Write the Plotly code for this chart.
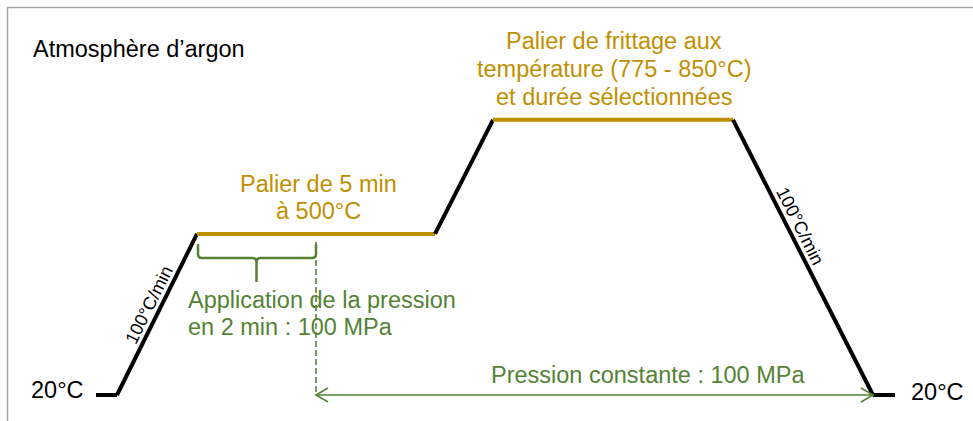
import plotly.graph_objects as go

# ---- thermal cycle (schematic time units, temperature in °C) ----
t_nodes = [96, 117, 197, 435, 493, 733, 873, 895]
temp_nodes = [20, 20, 500, 500, 840, 840, 20, 20]
segment_kind = ["hold", "ramp", "plateau", "ramp", "plateau", "ramp", "hold"]

# ---- pressure schedule (same time units) ----
pressure_ramp = [197, 316]      # application of pressure in 2 min
pressure_const = [316, 873]     # constant pressure until cooled down
pressure_level_temp = 20

# ---- labels ----
atmosphere_label = "Atmosphère d\u2019argon"
sinter_label = ["Palier de frittage aux", "température (775 - 850°C)", "et durée sélectionnées"]
hold_label = ["Palier de 5 min", "à 500°C"]
apply_label = ["Application de la pression", "en 2 min : 100 MPa"]
const_label = "Pression constante : 100 MPa"
rate_label = "100°C/min"
room_label = "20°C"

GOLD = "#BF9000"
GREEN = "#548235"
FONT = "Liberation Sans, Arial, sans-serif"

W, H = 973, 421
# temperature axis: 20 °C sits 395 px from the top, ~2.98 °C per px
DEG_PER_PX = 2.98
T_BOTTOM = 20 - (H - 395) * DEG_PER_PX
T_TOP = 20 + 395 * DEG_PER_PX

fig = go.Figure()

# cycle segments: ramps/holds in black, plateaus in gold
for i, kind in enumerate(segment_kind):
    fig.add_trace(go.Scatter(
        x=t_nodes[i:i + 2], y=temp_nodes[i:i + 2], mode="lines",
        line=dict(color=GOLD if kind == "plateau" else "black", width=4),
        hoverinfo="skip", showlegend=False))

# constant-pressure double arrow
fig.add_trace(go.Scatter(
    x=pressure_const, y=[pressure_level_temp] * 2, mode="lines",
    line=dict(color=GREEN, width=1.6), hoverinfo="skip", showlegend=False))
head_dx, head_dy = 12, 7 * DEG_PER_PX
for tip, sgn in ((pressure_const[0], 1), (pressure_const[1], -1)):
    fig.add_trace(go.Scatter(
        x=[tip + sgn * head_dx, tip, tip + sgn * head_dx],
        y=[pressure_level_temp + head_dy, pressure_level_temp, pressure_level_temp - head_dy],
        mode="lines", line=dict(color=GREEN, width=1.6),
        hoverinfo="skip", showlegend=False))

# dashed marker at the end of the pressure application
fig.add_trace(go.Scatter(
    x=[pressure_ramp[1]] * 2, y=[temp_nodes[2] - 8 * DEG_PER_PX, pressure_level_temp],
    mode="lines", line=dict(color=GREEN, width=1.6, dash="6px,3px"),
    hoverinfo="skip", showlegend=False))

# brace under the pressure application interval (pixel overlay axis y2)
xa, xb = pressure_ramp
xm = (xa + xb) / 2
yb = 258
brace = (f"M {xa+1},{244} L {xa+1},{yb-4} Q {xa+1},{yb} {xa+5},{yb} "
         f"L {xm-4},{yb} Q {xm},{yb} {xm},{yb+4} L {xm},{282} "
         f"M {xm},{yb+4} Q {xm},{yb} {xm+4},{yb} "
         f"L {xb-4},{yb} Q {xb},{yb} {xb},{yb-4} L {xb},{244}")
shapes = [
    dict(type="path", path=brace, xref="x", yref="y2",
         line=dict(color=GREEN, width=2.5)),
    # frame
    dict(type="path", path=f"M 7.5,{H} L 7.5,7.5 L {W},7.5", xref="x", yref="y2",
         line=dict(color="#A6A6A6", width=1.5)),
]

ann = []


def label(text, x, y, color="black", size=23.5, xanchor="center", angle=0):
    ann.append(dict(text=text, x=x, y=y, xref="x", yref="y2", showarrow=False,
                    xanchor=xanchor, yanchor="middle", textangle=angle,
                    font=dict(family=FONT, size=size, color=color)))


label(atmosphere_label, 31, 49, xanchor="left")
for line, yy in zip(sinter_label, (41, 69, 97)):
    label(line, 614, yy, color=GOLD)
for line, yy in zip(hold_label, (184, 211)):
    label(line, 318, yy, color=GOLD)
for line, yy in zip(apply_label, (300, 327)):
    label(line, 186, yy, color=GREEN, xanchor="left")
label(const_label, 648, 375, color=GREEN)
label(room_label, 29, 390, xanchor="left")
label(room_label, 909, 392, xanchor="left")
label(rate_label, 149, 305, size=18, angle=-63.5)
label(rate_label, 800, 226, size=18, angle=63.3)

fig.update_layout(
    width=W, height=H, autosize=False,
    margin=dict(l=0, r=0, t=0, b=0, pad=0),
    paper_bgcolor="white", plot_bgcolor="white",
    xaxis=dict(range=[0, W], visible=False, fixedrange=True),
    yaxis=dict(range=[T_BOTTOM, T_TOP], visible=False, fixedrange=True),
    yaxis2=dict(range=[H, 0], overlaying="y", visible=False, fixedrange=True),
    shapes=shapes, annotations=ann, showlegend=False,
)

fig.write_html("out.html")
